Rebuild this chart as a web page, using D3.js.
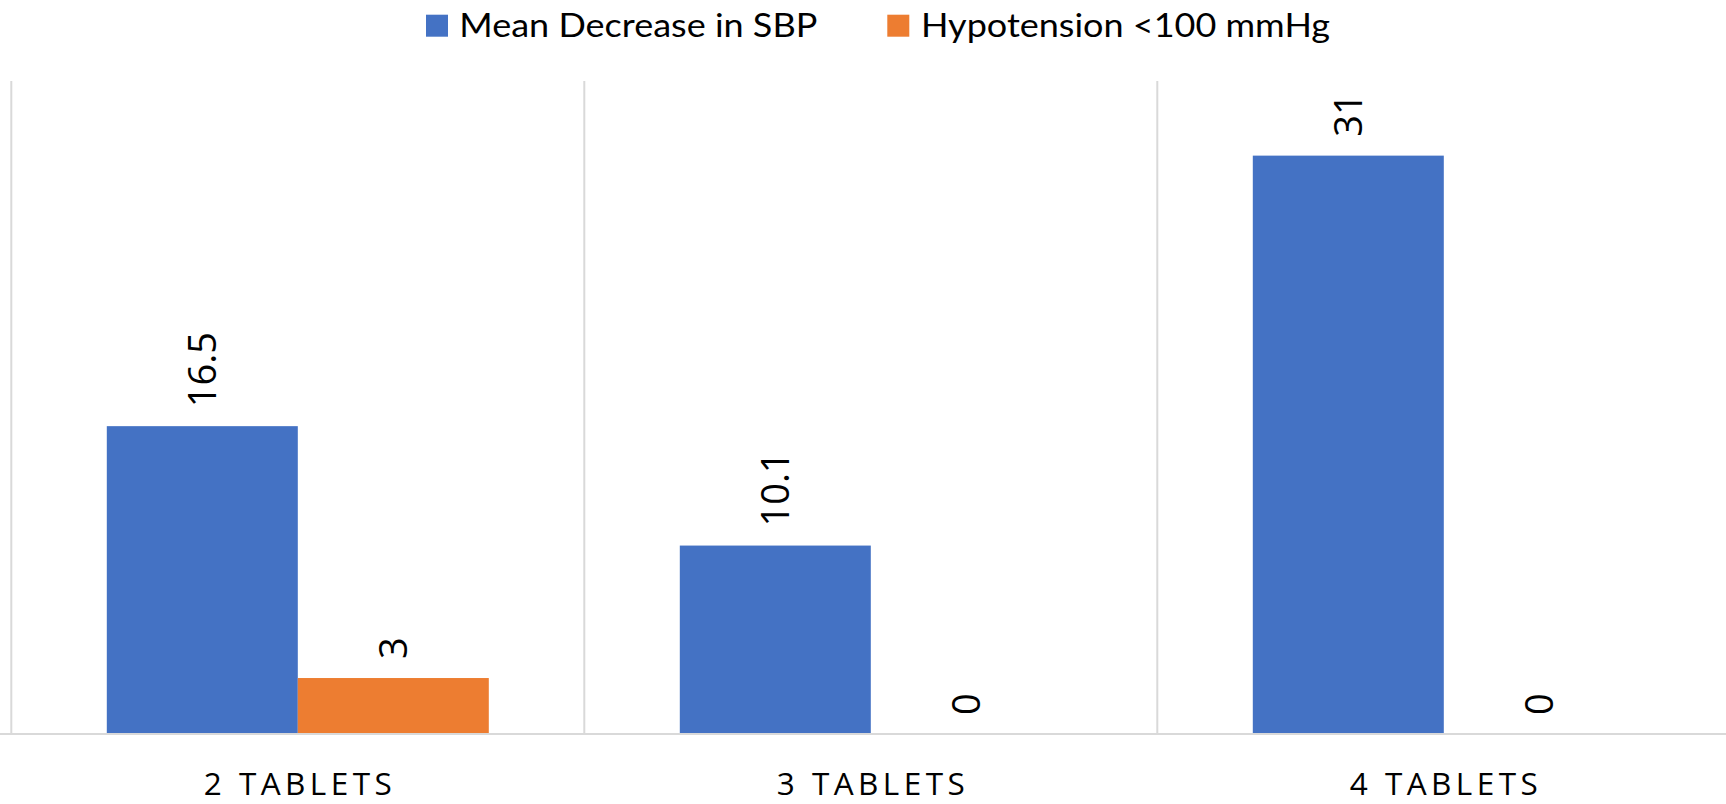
<!DOCTYPE html>
<html>
<head>
<meta charset="utf-8">
<script src="https://cdn.jsdelivr.net/npm/d3@7"></script>
<style>
  html, body { margin: 0; padding: 0; background: #ffffff; }
  svg { display: block; }
</style>
</head>
<body>
<svg id="chart" width="1726" height="804"></svg>
<script>
// Categories and series values
const categories = ["2 TABLETS", "3 TABLETS", "4 TABLETS"];
const seriesNames = ["Mean Decrease in SBP", "Hypotension <100 mmHg"];
const meanDecreaseSBP = [16.5, 10.1, 31];
const hypotension = [3, 0, 0];
const seriesColors = ["#4472C4", "#ED7D31"];
const yMax = 35;

const seriesValues = [meanDecreaseSBP, hypotension];
const rows = categories.map((c, i) => ({
  category: c,
  values: seriesNames.map((s, j) => ({ series: s, key: j, value: seriesValues[j][i] }))
}));

const svg = d3.select("#chart");
const W = 1726, H = 804;
const plot = { left: 11.3, right: 1730.3, top: 81, bottom: 734 };

const x = d3.scaleBand()
  .domain(categories)
  .range([plot.left, plot.right])
  .paddingInner(0).paddingOuter(0);

// two bars per category, centred, gap equal to one bar width
const xs = d3.scaleBand()
  .domain(d3.range(seriesNames.length))
  .range([0, x.bandwidth()])
  .paddingInner(0).paddingOuter(0.5);

const y = d3.scaleLinear().domain([0, yMax]).range([plot.bottom, plot.top]);

const gridColor = "#d9d9d9";

// vertical separators between categories
const bounds = categories.map(c => x(c)).concat([x(categories[categories.length - 1]) + x.bandwidth()]);
svg.append("g").selectAll("line")
  .data(bounds)
  .join("line")
  .attr("x1", d => d).attr("x2", d => d)
  .attr("y1", plot.top).attr("y2", plot.bottom)
  .attr("stroke", gridColor).attr("stroke-width", 2);

// bars
const groups = svg.append("g").selectAll("g")
  .data(rows)
  .join("g")
  .attr("transform", d => `translate(${x(d.category)},0)`);

groups.selectAll("rect")
  .data(d => d.values)
  .join("rect")
  .attr("x", d => xs(d.key))
  .attr("width", xs.bandwidth())
  .attr("y", d => y(d.value))
  .attr("height", d => y(0) - y(d.value))
  .attr("fill", d => seriesColors[d.key]);

// rotated data labels above each bar
groups.selectAll("text")
  .data(d => d.values)
  .join("text")
  .attr("transform", d => `translate(${xs(d.key) + xs.bandwidth() / 2},${y(d.value) - 19}) rotate(-90)`)
  .attr("dy", "0.36em")
  .attr("text-anchor", "start")
  .attr("font-family", "'Open Sans', 'DejaVu Sans', sans-serif")
  .attr("font-size", 38)
  .attr("fill", "#000")
  .text(d => d.value);

// category axis baseline
svg.append("line")
  .attr("x1", 0).attr("x2", W)
  .attr("y1", y(0)).attr("y2", y(0))
  .attr("stroke", gridColor).attr("stroke-width", 2);

// category labels
const xAxis = d3.axisBottom(x).tickSize(0).tickPadding(0);
const ax = svg.append("g")
  .attr("transform", `translate(0,${y(0)})`)
  .call(xAxis);
ax.select(".domain").remove();
ax.selectAll("text")
  .attr("y", 61)
  .attr("dy", 0)
  .attr("font-family", "'Open Sans', 'DejaVu Sans', sans-serif")
  .attr("font-size", 31.5)
  .attr("fill", "#000")
  .attr("textLength", 188)
  .attr("lengthAdjust", "spacing");

// legend
const legendItems = [
  { name: seriesNames[0], color: seriesColors[0], sx: 426, tx: 459.3, len: 358 },
  { name: seriesNames[1], color: seriesColors[1], sx: 887.3, tx: 921, len: 409 }
];
const lg = svg.append("g").selectAll("g").data(legendItems).join("g");
lg.append("rect")
  .attr("x", d => d.sx).attr("y", 14.7)
  .attr("width", 22).attr("height", 22)
  .attr("fill", d => d.color);
lg.append("text")
  .attr("x", d => d.tx).attr("y", 36.7)
  .attr("font-family", "Lato, 'Open Sans', sans-serif")
  .attr("font-size", 32.6)
  .attr("fill", "#000")
  .attr("textLength", d => d.len)
  .attr("lengthAdjust", "spacingAndGlyphs")
  .text(d => d.name);
</script>
</body>
</html>
